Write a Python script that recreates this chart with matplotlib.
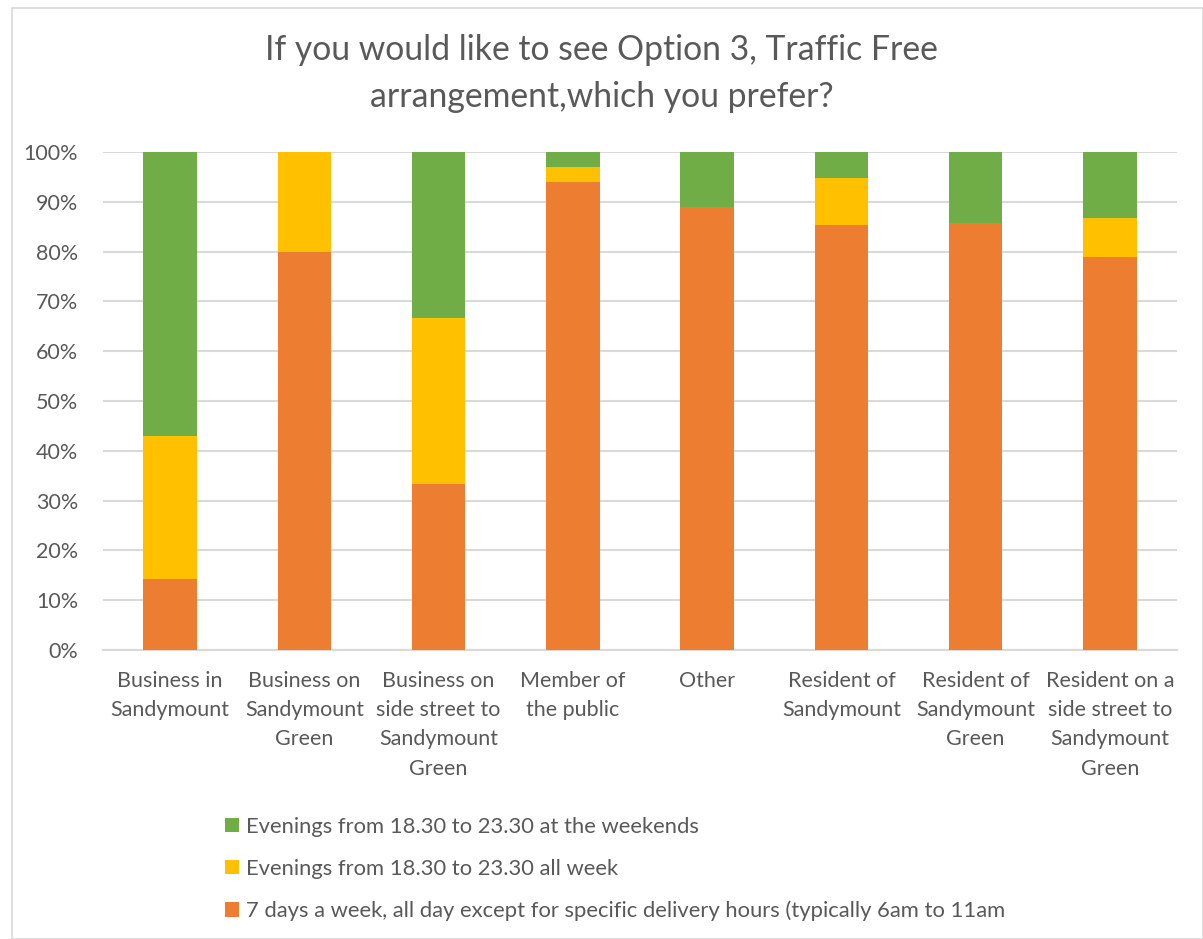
import matplotlib.pyplot as plt
import numpy as np
from matplotlib.patches import Rectangle

plt.rcParams['font.family'] = ['Lato', 'DejaVu Sans']

TEXT = '#595959'
GRID = '#D9D9D9'
ORANGE = '#ED7D31'
YELLOW = '#FFC000'
GREEN = '#70AD47'

categories = [
    'Business in\nSandymount',
    'Business on\nSandymount\nGreen',
    'Business on\nside street to\nSandymount\nGreen',
    'Member of\nthe public',
    'Other',
    'Resident of\nSandymount',
    'Resident of\nSandymount\nGreen',
    'Resident on a\nside street to\nSandymount\nGreen',
]
all_day = [14.3, 80.0, 33.3, 94.0, 88.9, 85.3, 85.7, 78.9]
all_week = [28.6, 20.0, 33.4, 3.0, 0.0, 9.5, 0.0, 7.8]
weekends = [57.1, 0.0, 33.3, 3.0, 11.1, 5.2, 14.3, 13.3]

labels = [
    'Evenings from 18.30 to 23.30 at the weekends',
    'Evenings from 18.30 to 23.30 all week',
    '7 days a week, all day except for specific delivery hours (typically 6am to 11am',
]

fig = plt.figure(figsize=(12.03, 9.39), dpi=100)
ax = fig.add_axes([103 / 1203, 1 - 650 / 939, (1177 - 103) / 1203, (650 - 152) / 939])

x = np.arange(len(categories))
w = 0.4
b1 = ax.bar(x, all_day, w, color=ORANGE, zorder=3)
b2 = ax.bar(x, all_week, w, bottom=all_day, color=YELLOW, zorder=3)
bottom3 = np.array(all_day) + np.array(all_week)
b3 = ax.bar(x, weekends, w, bottom=bottom3, color=GREEN, zorder=3)

ax.set_xlim(-0.5, len(categories) - 0.5)
ax.set_ylim(0, 100)
ax.set_yticks(np.arange(0, 101, 10))
ax.set_yticklabels([f'{v}%' for v in range(0, 101, 10)], fontsize=15.5, color=TEXT)
ax.set_xticks(x)
ax.set_xticklabels(categories, fontsize=15.5, color=TEXT, linespacing=1.58)
ax.tick_params(length=0)
ax.tick_params(axis='x', pad=15)
ax.tick_params(axis='y', pad=18)
ax.yaxis.grid(True, color=GRID, linewidth=1.5, zorder=0)
for s in ['top', 'right', 'left']:
    ax.spines[s].set_visible(False)
ax.spines['bottom'].set_color(GRID)
ax.spines['bottom'].set_linewidth(1.5)

fig.text(0.5, 1 - 50 / 939, 'If you would like to see Option 3, Traffic Free',
         ha='center', va='center', fontsize=24.3, color=TEXT)
fig.text(0.5, 1 - 97 / 939, 'arrangement,which you prefer?',
         ha='center', va='center', fontsize=24.3, color=TEXT)

fig.legend([b3, b2, b1], labels, loc='upper left', bbox_to_anchor=(205 / 1203, 1 - 797 / 939),
           frameon=False, fontsize=15.8, labelcolor=TEXT, handlelength=0.65, handleheight=0.65,
           handletextpad=0.3, labelspacing=1.0)

fig.patches.append(Rectangle((12 / 1203, 0), 1 - 12 / 1203, 1 - 8 / 939, transform=fig.transFigure,
                             fill=False, edgecolor='#D9D9D9', linewidth=1.2))

plt.savefig('out.png', dpi=100, facecolor='white')
